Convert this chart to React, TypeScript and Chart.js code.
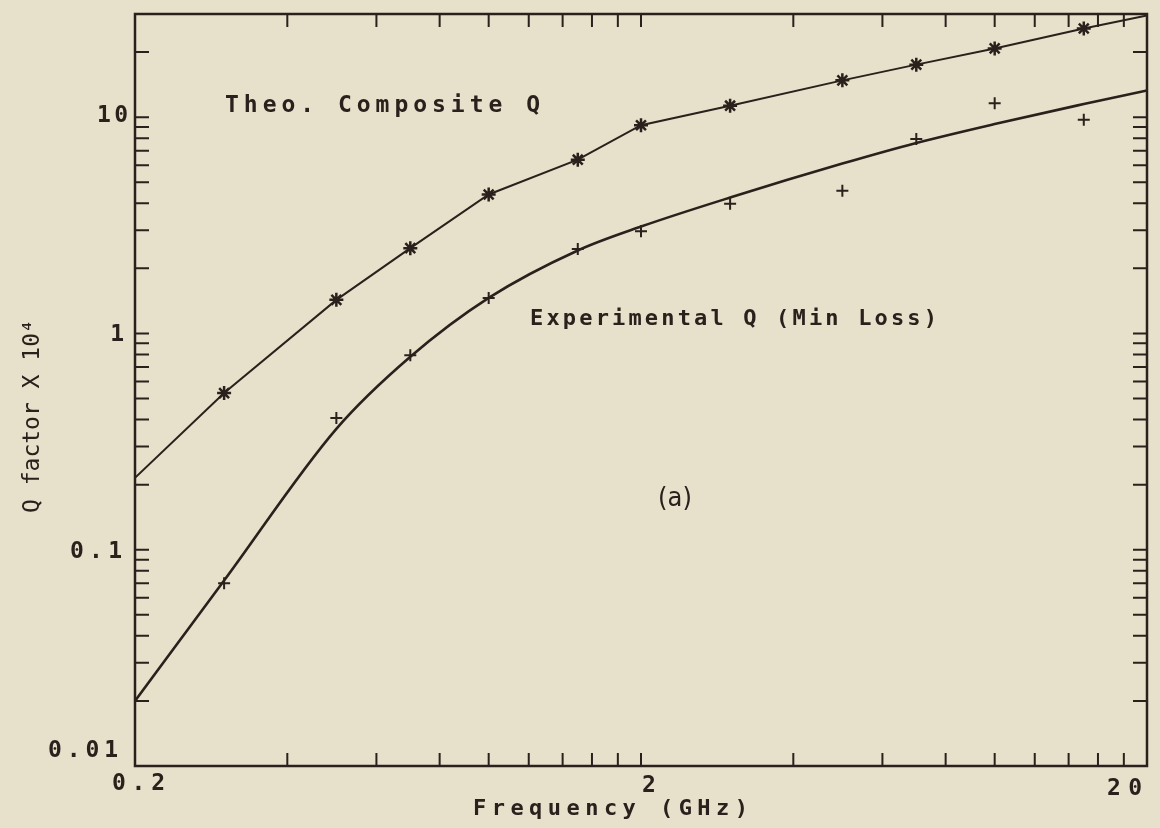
import React, { useEffect, useRef } from "react";
import { Chart, registerables } from "chart.js";

Chart.register(...registerables);

// ---- data ----
const freqGHz = [0.3, 0.5, 0.7, 1.0, 1.5, 2, 3, 5, 7, 10, 15];
const theoQ = [0.53, 1.43, 2.48, 4.39, 6.36, 9.18, 11.3, 14.8, 17.5, 20.8, 25.7];
const expQ = [0.07, 0.406, 0.792, 1.46, 2.46, 2.97, 3.98, 4.57, 7.93, 11.6, 9.73];
// theoretical line runs edge to edge
const theoLineFreq = [0.2, 0.3, 0.5, 0.7, 1.0, 1.5, 2, 3, 5, 7, 10, 15, 20];
const theoLineQ = [0.215, 0.53, 1.43, 2.48, 4.39, 6.36, 9.18, 11.3, 14.8, 17.5, 20.8, 25.7, 29.5];
// smooth fitted curve through experimental data
const fitFreq = [0.2, 0.3, 0.5, 0.7, 1.0, 1.5, 2, 3, 5, 7, 10, 15, 20];
const fitQ = [0.02, 0.072, 0.362, 0.78, 1.46, 2.42, 3.12, 4.25, 6.1, 7.6, 9.3, 11.5, 13.3];

const yLabelValues = [0.01, 0.1, 1, 10];
const yLabelTexts = ["0.01", "0.1", "1", "10"];
const xLabelValues = [0.2, 2, 20];
const xLabelTexts = ["0.2", "2", "20"];
const yMinorMultipliers = [1, 2, 3, 4, 5, 6, 7, 8, 9];
const yDecades = [0.01, 0.1, 1, 10];
const xMinorMultipliers = [1, 2, 3, 4, 5, 6, 7, 8, 9];
const xDecades = [0.2, 2];

const INK = "#2a201c";
const PAPER = "#e7e0cb";

function spaced(ctx: CanvasRenderingContext2D, text: string, left: number, cy: number, width: number, font: string) {
  ctx.font = font;
  (ctx as any).letterSpacing = "0px";
  const w0 = ctx.measureText(text).width;
  const n = text.length;
  const ls = n > 1 ? (width - w0) / (n - 1) : 0;
  (ctx as any).letterSpacing = ls + "px";
  ctx.textAlign = "left";
  ctx.textBaseline = "middle";
  ctx.fillText(text, left, cy);
  (ctx as any).letterSpacing = "0px";
}

const paperPlugin = {
  id: "paperAxes",
  afterDraw(chart: any) {
    const { ctx, chartArea: a, scales } = chart;
    const xs = scales.x;
    const ys = scales.y;
    ctx.save();
    ctx.strokeStyle = INK;
    ctx.fillStyle = INK;
    ctx.lineCap = "butt";
    // frame
    ctx.lineWidth = 2.5;
    ctx.strokeRect(a.left, a.top, a.right - a.left, a.bottom - a.top);
    // inward ticks
    ctx.lineWidth = 2;
    ctx.beginPath();
    for (const d of yDecades) {
      for (const m of yMinorMultipliers) {
        const v = d * m;
        if (v <= 0.01 || v >= 30) continue;
        const py = ys.getPixelForValue(v);
        ctx.moveTo(a.left, py);
        ctx.lineTo(a.left + 14, py);
        ctx.moveTo(a.right, py);
        ctx.lineTo(a.right - 14, py);
      }
    }
    for (const d of xDecades) {
      for (const m of xMinorMultipliers) {
        const v = d * m;
        if (v <= 0.2 || v >= 20) continue;
        const px = xs.getPixelForValue(v);
        ctx.moveTo(px, a.bottom);
        ctx.lineTo(px, a.bottom - 13);
        ctx.moveTo(px, a.top);
        ctx.lineTo(px, a.top + 13);
      }
    }
    ctx.stroke();

    const tickFont = 'bold 23px "DejaVu Sans Mono", monospace';
    // y tick labels
    const yRight = [118, 122, 124, 128];
    const yWidth = [70, 52, 0, 31];
    const yOff = [-15, 2, 2, -1];
    yLabelValues.forEach((v, i) => {
      const py = ys.getPixelForValue(v) + yOff[i];
      const t = yLabelTexts[i];
      if (t.length === 1) {
        ctx.font = tickFont;
        ctx.textAlign = "right";
        ctx.textBaseline = "middle";
        ctx.fillText(t, yRight[i], py);
      } else {
        spaced(ctx, t, yRight[i] - yWidth[i], py, yWidth[i], tickFont);
      }
    });
    // x tick labels
    const p0 = xs.getPixelForValue(xLabelValues[0]);
    spaced(ctx, xLabelTexts[0], p0 - 23, a.bottom + 18, 53, tickFont);
    const p1 = xs.getPixelForValue(xLabelValues[1]);
    ctx.font = tickFont;
    ctx.textAlign = "center";
    ctx.textBaseline = "middle";
    ctx.fillText(xLabelTexts[1], p1 + 8, a.bottom + 20);
    const p2 = xs.getPixelForValue(xLabelValues[2]);
    spaced(ctx, xLabelTexts[2], p2 - 40, a.bottom + 23, 35, tickFont);

    // axis titles
    spaced(ctx, "Frequency (GHz)", 473, a.bottom + 43, 275, 'bold 22px "DejaVu Sans Mono", monospace');
    ctx.save();
    ctx.translate(33, 513);
    ctx.rotate(-Math.PI / 2);
    ctx.font = '23px "DejaVu Sans Mono", monospace';
    ctx.textAlign = "left";
    ctx.textBaseline = "middle";
    ctx.fillText("Q factor X 10\u2074", 0, 0);
    ctx.restore();

    // annotations
    spaced(ctx, "Theo. Composite Q", 225, 106, 315, 'bold 23px "DejaVu Sans Mono", monospace');
    spaced(ctx, "Experimental Q (Min Loss)", 530, 319, 407, 'bold 22px "DejaVu Sans Mono", monospace');
    ctx.font = '27px "Liberation Sans Narrow", "DejaVu Sans Condensed", "DejaVu Sans", sans-serif';
    ctx.textAlign = "center";
    ctx.textBaseline = "middle";
    ctx.fillText("(a)", 675, 499);
    ctx.restore();
  },
};

export default function App() {
  const ref = useRef<HTMLCanvasElement | null>(null);
  useEffect(() => {
    const canvas = ref.current;
    if (!canvas) return;
    const chart = new Chart(canvas, {
      type: "line",
      data: {
        datasets: [
          {
            label: "Theo. Composite Q",
            data: theoLineFreq.map((f, i) => ({ x: f, y: theoLineQ[i] })),
            borderColor: INK,
            backgroundColor: INK,
            borderWidth: 2,
            tension: 0,
            pointStyle: "star",
            pointRadius: theoLineFreq.map((_, i) => (i === 0 || i === theoLineFreq.length - 1 ? 0 : 7)),
            pointBorderWidth: 2.5,
            pointBorderColor: INK,
            fill: false,
          },
          {
            label: "Experimental fit",
            data: fitFreq.map((f, i) => ({ x: f, y: fitQ[i] })),
            borderColor: INK,
            borderWidth: 2.6,
            cubicInterpolationMode: "monotone",
            pointRadius: 0,
            fill: false,
          },
          {
            label: "Experimental Q (Min Loss)",
            data: freqGHz.map((f, i) => ({ x: f, y: expQ[i] })),
            showLine: false,
            pointStyle: "cross",
            pointRadius: 6,
            pointBorderWidth: 2,
            pointBorderColor: INK,
            backgroundColor: INK,
            borderColor: INK,
          },
        ],
      },
      options: {
        responsive: false,
        animation: false,
        events: [],
        layout: { padding: { left: 135, right: 13, top: 14, bottom: 62 } },
        plugins: { legend: { display: false }, tooltip: { enabled: false } },
        scales: {
          x: { type: "logarithmic", min: 0.2, max: 20, display: false },
          y: { type: "logarithmic", min: 0.01, max: 30, display: false },
        },
      },
      plugins: [paperPlugin],
    } as any);
    return () => chart.destroy();
  }, []);
  return (
    <div style={{ position: "fixed", left: 0, top: 0, width: 1160, height: 828, background: PAPER }}>
      <canvas ref={ref} width={1160} height={828} style={{ display: "block" }} />
    </div>
  );
}
